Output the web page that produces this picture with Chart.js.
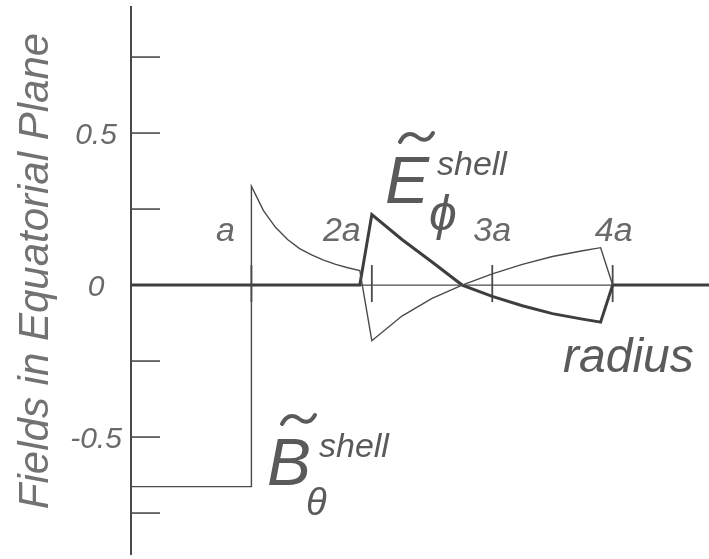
<!DOCTYPE html>
<html>
<head>
<meta charset="utf-8">
<script src="https://cdn.jsdelivr.net/npm/chart.js@4.4.0/dist/chart.umd.min.js"></script>
<style>
  html, body { margin: 0; padding: 0; background: #fff; }
  #wrap { width: 709px; height: 559px; }
</style>
</head>
<body>
<div id="wrap"><canvas id="fieldsChart" width="709" height="559"></canvas></div>
<script>
// radius in units of a, field values
const bRadius = [0, 1, 1, 1.1, 1.2, 1.3, 1.4, 1.5, 1.6, 1.7, 1.8, 1.9, 2.0, 2.25, 2.5, 2.75, 3.0, 3.25, 3.5, 3.75, 3.9, 4.0];
const bField = [-0.663, -0.663, 0.325, 0.245, 0.19, 0.15, 0.12, 0.099, 0.082, 0.068, 0.057, 0.048, -0.183, -0.102, -0.044, 0.0, 0.037, 0.068, 0.094, 0.113, 0.123, 0.0];

const eRadius = [0, 1.9, 2.0, 2.25, 2.5, 2.75, 3.0, 3.25, 3.5, 3.75, 3.9, 4.0, 4.8];
const eField = [0, 0, 0.232, 0.150, 0.076, 0.0, -0.037, -0.068, -0.094, -0.112, -0.122, 0, 0];

const yTickValues = [0.75, 0.5, 0.25, -0.25, -0.5, -0.75];
const yTickLabels = ["0.5", "0", "-0.5"];
const yLabelValues = [0.5, 0, -0.5];
const xTickValues = [1, 2, 3, 4];
const xTickLabels = ["a", "2a", "3a", "4a"];

const ink = "#4a4a4a";
const textInk = "#6a6a6a";

function toPoints(xs, ys) {
    return xs.map((x, i) => ({ x: x, y: ys[i] }));
}

// axes, ticks and text drawn on top of the library's scales
const decorations = {
    id: "decorations",
    beforeDatasetsDraw(chart) {
        const ctx = chart.ctx;
        const xs = chart.scales.x;
        const ys = chart.scales.y;
        const x0 = xs.getPixelForValue(0);
        const y0 = ys.getPixelForValue(0);

        ctx.save();
        ctx.strokeStyle = ink;
        ctx.lineCap = "butt";

        // y axis line
        ctx.lineWidth = 2;
        ctx.beginPath();
        ctx.moveTo(x0, chart.chartArea.top);
        ctx.lineTo(x0, chart.chartArea.bottom);
        ctx.stroke();

        // x axis line (thin)
        ctx.lineWidth = 1.2;
        ctx.beginPath();
        ctx.moveTo(x0, y0);
        ctx.lineTo(chart.chartArea.right, y0);
        ctx.stroke();

        // y ticks pointing inward
        ctx.lineWidth = 1.6;
        yTickValues.forEach(function (v) {
            const py = ys.getPixelForValue(v);
            ctx.beginPath();
            ctx.moveTo(x0, py);
            ctx.lineTo(x0 + 29, py);
            ctx.stroke();
        });

        // x ticks crossing the axis
        ctx.lineWidth = 1.8;
        xTickValues.forEach(function (v) {
            const px = xs.getPixelForValue(v);
            ctx.beginPath();
            ctx.moveTo(px, y0 - 20);
            ctx.lineTo(px, y0 + 17);
            ctx.stroke();
        });
        ctx.restore();
    },
    afterDraw(chart) {
        const ctx = chart.ctx;
        const xs = chart.scales.x;
        const ys = chart.scales.y;
        ctx.save();
        ctx.fillStyle = textInk;

        // y tick labels
        ctx.font = "italic 30px 'Liberation Sans', Arial, sans-serif";
        ctx.textAlign = "center";
        ctx.textBaseline = "alphabetic";
        yLabelValues.forEach(function (v, i) {
            ctx.fillText(yTickLabels[i], 96, ys.getPixelForValue(v) + 11);
        });

        // x tick labels
        ctx.font = "italic 34px 'Liberation Sans', Arial, sans-serif";
        const xOffsets = [-26, -30, 0, 1];
        xTickValues.forEach(function (v, i) {
            ctx.fillText(xTickLabels[i], xs.getPixelForValue(v) + xOffsets[i], 241);
        });

        // y title
        ctx.save();
        ctx.fillStyle = "#727272";
        ctx.translate(48, 271);
        ctx.rotate(-Math.PI / 2);
        ctx.font = "italic 42px 'Liberation Sans', Arial, sans-serif";
        ctx.textAlign = "center";
        ctx.fillText("Fields in Equatorial Plane", 0, 0);
        ctx.restore();

        // radius
        ctx.fillStyle = "#5a5a5a";
        ctx.font = "italic 48px 'Liberation Sans', Arial, sans-serif";
        ctx.textAlign = "left";
        ctx.fillText("radius", 563, 372);

        // field names
        drawFieldName(ctx, "E", "\u03D5", 385, 203, 429, 230, 50);
        drawFieldName(ctx, "B", "\u03B8", 267, 485, 306, 515, 38);
        ctx.restore();
    }
};

function drawFieldName(ctx, letter, sub, x, y, sx, sy, subSize) {
    ctx.fillStyle = "#5a5a5a";
    ctx.strokeStyle = "#5a5a5a";
    ctx.textAlign = "left";
    ctx.font = "italic 66px 'Liberation Sans', Arial, sans-serif";
    ctx.fillText(letter, x, y);

    // wide tilde over the letter
    const tx = x + 15;
    const ty = y - 70;
    ctx.lineWidth = 4;
    ctx.lineCap = "round";
    ctx.beginPath();
    ctx.moveTo(tx, ty + 9);
    ctx.bezierCurveTo(tx + 4, ty + 1, tx + 10, ty - 1, tx + 16, ty + 3);
    ctx.bezierCurveTo(tx + 22, ty + 8, tx + 28, ty + 9, tx + 33, ty);
    ctx.stroke();

    ctx.font = "italic 34px 'Liberation Sans', Arial, sans-serif";
    ctx.fillText("shell", x + 52, y - 28);
    ctx.font = "italic " + subSize + "px 'Liberation Sans', 'DejaVu Sans', sans-serif";
    ctx.fillText(sub, sx, sy);
}

new Chart(document.getElementById("fieldsChart"), {
    type: "scatter",
    data: {
        datasets: [
            {
                label: "B",
                data: toPoints(bRadius, bField),
                showLine: true,
                borderColor: ink,
                borderWidth: 1.4,
                pointRadius: 0,
                tension: 0,
            },
            {
                label: "E",
                data: toPoints(eRadius, eField),
                showLine: true,
                borderColor: "#3e3e3e",
                borderWidth: 3,
                pointRadius: 0,
                tension: 0,
            },
        ],
    },
    options: {
        responsive: false,
        animation: false,
        devicePixelRatio: 1,
        layout: { padding: { left: 131, right: 0, top: 6, bottom: 4 } },
        plugins: {
            legend: { display: false },
            tooltip: { enabled: false },
        },
        scales: {
            x: { type: "linear", min: 0, max: 4.8, display: false },
            y: { type: "linear", min: -0.888, max: 0.918, display: false },
        },
    },
    plugins: [decorations],
});
</script>
</body>
</html>
